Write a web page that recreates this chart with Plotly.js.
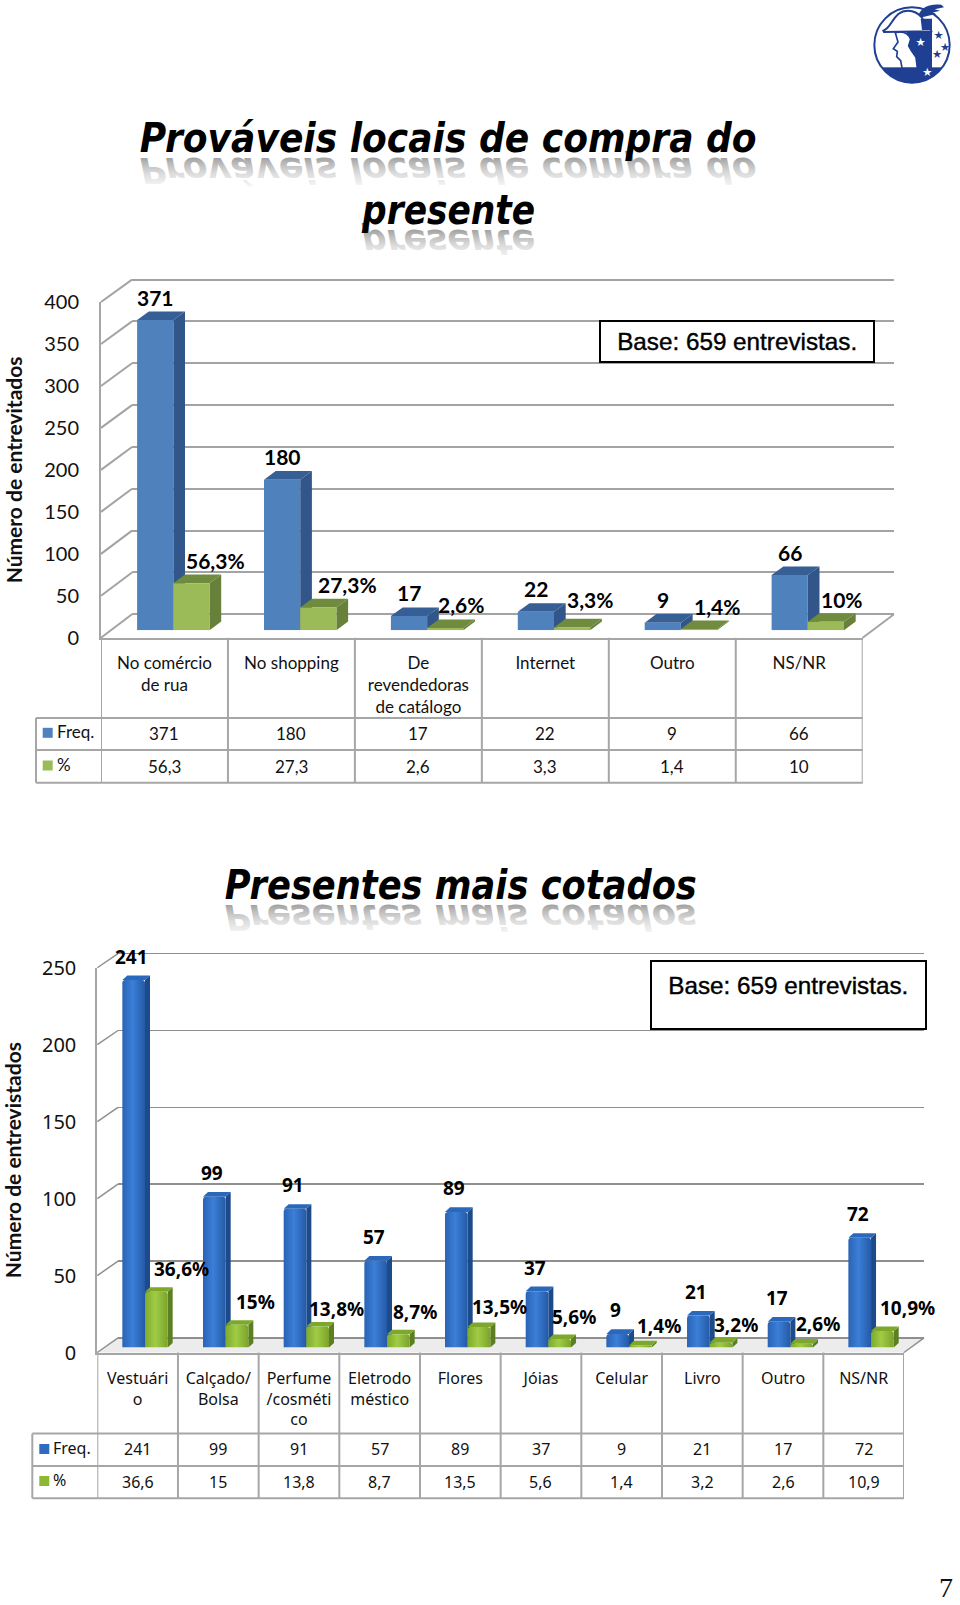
<!DOCTYPE html>
<html>
<head>
<meta charset="utf-8">
<script src="https://cdn.plot.ly/plotly-3.0.1.min.js"></script>
<style>html,body{margin:0;padding:0;background:#fff}#wrap{position:relative;width:960px;height:1605px}#logo{position:absolute;left:840px;top:0}</style>
</head>
<body>
<div id="wrap">
<div id="plot"></div>
<svg id="logo" width="120" height="100" viewBox="0 0 360 300">
  <defs><clipPath id="disc"><circle cx="216" cy="135" r="112"/></clipPath></defs>
  <circle cx="216" cy="135" r="113" fill="#fff" stroke="#1f3f92" stroke-width="6"/>
  <g clip-path="url(#disc)">
    <rect x="100" y="202" width="240" height="60" fill="#1f3f92"/>
    <rect x="200" y="92" width="76" height="112" fill="#1f3f92"/>
    <path d="M166 98L174 126 160 146 172 154 170 170 182 182 186 204H232L228 172 214 152 206 138 212 118C205 100 190 92 166 98Z" fill="#fff" stroke="#1f3f92" stroke-width="5"/>
    <rect x="232" y="92" width="44" height="112" fill="#1f3f92"/>
  </g>
  <path d="M130 92C150 86 154 60 175 42 200 24 235 32 250 60 258 74 262 84 272 86L274 94 132 96Z" fill="#fff" stroke="#1f3f92" stroke-width="6"/>
  <path d="M242 56H276V90H246ZM236 44C246 20 270 10 304 14L312 22 284 28 300 32 276 38 288 42 246 52Z" fill="#1f3f92"/>
  <g font-family="DejaVu Sans" font-size="34" text-anchor="middle">
    <text x="242" y="137" fill="#fff">★</text><text x="296" y="118" fill="#1f3f92">★</text>
    <text x="315" y="153" fill="#1f3f92">★</text><text x="291" y="174" fill="#1f3f92">★</text>
    <text x="262" y="227" fill="#fff">★</text>
  </g>
</svg>
</div>
<script>
/* ---------- data: chart 1 ---------- */
const title1Lines = ['Prováveis locais de compra do', 'presente'];
const categories1 = ['No comércio<br>de rua', 'No shopping', 'De<br>revendedoras<br>de catálogo', 'Internet', 'Outro', 'NS/NR'];
const freq1 = [371, 180, 17, 22, 9, 66];
const pct1 = [56.3, 27.3, 2.6, 3.3, 1.4, 10];
const ticks1 = [0, 50, 100, 150, 200, 250, 300, 350, 400];
const yTitle1 = 'Número de entrevitados';
/* ---------- data: chart 2 ---------- */
const title2Lines = ['Presentes mais cotados'];
const categories2 = ['Vestuári<br>o', 'Calçado/<br>Bolsa', 'Perfume<br>/cosméti<br>co', 'Eletrodo<br>méstico', 'Flores', 'Jóias', 'Celular', 'Livro', 'Outro', 'NS/NR'];
const freq2 = [241, 99, 91, 57, 89, 37, 9, 21, 17, 72];
const pct2 = [36.6, 15, 13.8, 8.7, 13.5, 5.6, 1.4, 3.2, 2.6, 10.9];
const ticks2 = [0, 50, 100, 150, 200, 250];
const yTitle2 = 'Número de entrevistados';
const baseNote = 'Base: 659 entrevistas.';
const seriesNames = ['Freq.', '%'];

/* ---------- label nudges (pixels), separate from the values ---------- */
const pctLabelDx1 = [41.7, 46.8, 33.9, 36, 36.3, 34];
const pctLabelUp1 = [23, 23, 23.6, 28, 23, 22.6];
const pctLabelDx2 = [36.3, 30, 30.4, 27.7, 31.8, 25.6, 30, 26, 27.9, 36.7];
const pctLabelUp2 = [22.8, 22.7, 17.8, 22, 19.7, 22, 19.8, 17.7, 20, 22.6];

/* ---------- helpers ---------- */
const W = 960, H = 1605;
const fx = x => x / W, fy = y => 1 - y / H;
const comma = v => String(v).replace('.', ',');

const layout = {
  width: W, height: H, margin: {l: 0, r: 0, t: 0, b: 0},
  paper_bgcolor: '#fff', plot_bgcolor: 'rgba(0,0,0,0)',
  showlegend: false, barmode: 'overlay', hovermode: false,
  shapes: [], annotations: []
};
const traces = [];

function addChart(c) {
  const n = c.cats.length;
  const [aw, ab, af] = c.ax;              // axis numbers: wall, bars, front
  const id = k => (k === 1 ? '' : k);
  const T = c.text;

  /* back wall with its gridlines */
  const wy = v => c.wall.y0 - v * c.wall.k;
  const top = c.ticks[c.ticks.length - 1];
  layout['xaxis' + id(aw)] = {domain: [fx(c.wall.x0), fx(c.wall.x1)], range: [0, 1], showticklabels: false, ticks: '', showgrid: false, showline: false, zeroline: false, anchor: 'y' + id(aw), fixedrange: true};
  layout['yaxis' + id(aw)] = {domain: [fy(wy(-5)), fy(wy(top + 5))], range: [-5, top + 5], anchor: 'x' + id(aw),
    tickmode: 'array', tickvals: c.ticks, showticklabels: false, ticks: '', showgrid: true, gridcolor: c.gridColor, gridwidth: c.gridWidth, zeroline: false, showline: false, fixedrange: true};
  /* keeps the wall subplot alive: one invisible point on its axes */
  traces.push({type: 'scatter', x: [0.5], y: [0], xaxis: 'x' + id(aw), yaxis: 'y' + id(aw), mode: 'markers', marker: {opacity: 0, size: 1}, hoverinfo: 'skip', showlegend: false});

  /* plane that holds the bars */
  const byTop = c.bars.y0 - top * c.bars.k;
  layout['xaxis' + id(ab)] = {domain: [fx(c.bars.x0), fx(c.bars.x0 + n * c.bars.pitch)], range: [-0.5, n - 0.5], type: 'category', visible: false, anchor: 'y' + id(ab), fixedrange: true};
  layout['yaxis' + id(ab)] = {domain: [fy(c.bars.y0), fy(byTop)], range: [0, top], visible: false, anchor: 'x' + id(ab), fixedrange: true};

  /* front plane: the visible axes */
  const fyy = v => c.front.y0 - v * c.front.k;
  layout['xaxis' + id(af)] = {domain: [fx(c.front.x0), fx(c.front.x1)], range: [-0.5, n - 0.5], type: 'category', anchor: 'y' + id(af),
    tickmode: 'array', tickvals: c.cats.map((_, i) => i), ticktext: c.cats, tickangle: 0, ticks: '', ticklabelstandoff: c.catStandoff,
    tickfont: {family: T.family, size: T.cell, color: '#111'}, showline: true, linecolor: '#a6a6a6', linewidth: 2, showgrid: false, zeroline: false, fixedrange: true};
  layout['yaxis' + id(af)] = {domain: [fy(fyy(0)), fy(fyy(top))], range: [0, top], anchor: 'x' + id(af),
    tickvals: c.ticks, ticktext: c.ticks.map(String), ticks: '', ticklabelstandoff: c.yStandoff,
    tickfont: {family: T.family, size: T.tick, color: '#111'}, showline: true, linecolor: '#a6a6a6', linewidth: 2, showgrid: false, zeroline: false, fixedrange: true,
    title: {text: c.yTitle, font: {family: 'Lato', size: T.yTitle, weight: 700, color: '#111'}}};

  /* bars */
  const xa = 'x' + id(ab), ya = 'y' + id(ab), w = c.bars.w;
  traces.push({type: 'bar', name: seriesNames[0], x: c.cats, y: c.freq, xaxis: xa, yaxis: ya, width: w, offset: -w,
    marker: {color: c.col.blue, line: {width: 0}, cornerradius: c.corner}, hoverinfo: 'skip'});
  traces.push({type: 'bar', name: seriesNames[1], x: c.cats, y: c.pct, xaxis: xa, yaxis: ya, width: w, offset: 0,
    marker: {color: c.col.green, line: {width: 0}, cornerradius: c.corner}, hoverinfo: 'skip'});

  /* 3-D faces, derived from the values through the bar plane's axes */
  const dx = c.bars.dx / c.bars.pitch, dy = c.bars.dy / c.bars.k;
  const face = (vals, off, sideCol, topCol) => vals.forEach((v, i) => {
    const x0 = i + off, x1 = x0 + w;
    layout.shapes.push({type: 'path', xref: xa, yref: ya, layer: 'between', fillcolor: sideCol, line: {width: 0},
      path: `M${x1} 0L${x1 + dx} ${dy}L${x1 + dx} ${v + dy}L${x1} ${v}Z`});
    layout.shapes.push({type: 'path', xref: xa, yref: ya, layer: 'between', fillcolor: topCol, line: {width: 0},
      path: `M${x0} ${v}L${x0 + dx} ${v + dy}L${x1 + dx} ${v + dy}L${x1} ${v}Z`});
  });
  face(c.freq, -w, c.col.blueSide, c.col.blueTop);
  face(c.pct, 0, c.col.greenSide, c.col.greenTop);

  /* floor and side-wall diagonals */
  const line = (x0, y0, x1, y1, col, wd) => layout.shapes.push({type: 'line', xref: 'paper', yref: 'paper', layer: 'below',
    x0: fx(x0), y0: fy(y0), x1: fx(x1), y1: fy(y1), line: {color: col || '#a6a6a6', width: wd || 2}});
  if (c.floorFill) layout.shapes.push({type: 'path', xref: 'paper', yref: 'paper', layer: 'below', fillcolor: c.floorFill, line: {width: 0},
    path: `M${fx(c.front.x0)} ${fy(fyy(0))}L${fx(c.wall.x0)} ${fy(wy(0))}L${fx(c.wall.x1)} ${fy(wy(0))}L${fx(c.front.x1)} ${fy(fyy(0))}Z`});
  c.ticks.forEach(t => line(c.front.x0, fyy(t), c.wall.x0, wy(t), c.gridColor, c.gridWidth));
  line(c.front.x1, fyy(0), c.wall.x1, wy(0), c.gridColor, c.gridWidth);

  /* data table under the chart */
  const xf = 'x' + id(af), R = c.rows;
  for (let i = 0; i <= n; i++) layout.shapes.push({type: 'line', xref: xf, yref: 'paper', layer: 'below',
    x0: i - 0.5, x1: i - 0.5, y0: fy(fyy(0)), y1: fy(R.bottom), line: {color: '#a6a6a6', width: 2}});
  [R.head, R.mid, R.bottom].forEach(y => line(R.left, y, c.front.x1, y));
  line(R.left, R.head, R.left, R.bottom);

  const cell = (i, y, s) => layout.annotations.push({xref: xf, yref: 'paper', x: i, y: fy(y), text: s, showarrow: false,
    xanchor: 'center', yanchor: 'middle', font: {family: T.family, size: T.cell, color: '#111'}});
  c.freq.forEach((v, i) => cell(i, R.freqY, String(v)));
  c.pct.forEach((v, i) => cell(i, R.pctY, comma(v)));
  [[seriesNames[0], R.freqKey, c.col.blue], [seriesNames[1], R.pctKey, c.col.green]].forEach(([s, y, col]) => {
    layout.annotations.push({xref: 'paper', yref: 'paper', x: fx(R.keyText), y: fy(y), text: s, showarrow: false,
      xanchor: 'left', yanchor: 'middle', font: {family: T.family, size: T.cell, color: '#111'}});
    layout.shapes.push({type: 'rect', xref: 'paper', yref: 'paper', layer: 'above', x0: fx(R.keyX), x1: fx(R.keyX + 10),
      y0: fy(y - 4), y1: fy(y + 6), fillcolor: col, line: {width: 0}});
  });

  /* bold value labels above each bar */
  const label = (i, v, s, dxx, up) => layout.annotations.push({xref: xa, yref: ya, x: i, y: v, xshift: dxx, yshift: up, text: s, showarrow: false,
    xanchor: 'center', yanchor: 'middle', font: {family: T.family, size: T.label, weight: 700, color: '#000'}});
  c.freq.forEach((v, i) => label(i, v, String(v), c.freqDx, c.freqUp));
  c.pct.forEach((v, i) => label(i, v, comma(v) + '%', c.pctDx[i], c.pctUp[i]));

  /* note box */
  const B = c.box;
  layout.annotations.push({xref: 'paper', yref: 'paper', x: fx((B.x0 + B.x1) / 2), y: fy((B.y0 + B.y1) / 2), xanchor: 'center', yanchor: 'middle',
    width: B.x1 - B.x0 - 4 - 2 * B.pad, height: B.y1 - B.y0 - 4 - 2 * B.pad, text: baseNote, valign: B.valign, align: 'center', showarrow: false, borderpad: B.pad,
    bordercolor: '#000', borderwidth: 2, bgcolor: '#fff', font: {family: 'Liberation Sans', size: 24, color: '#000'}});

  /* slide title */
  c.titles.forEach((t, i) => layout.annotations.push({xref: 'paper', yref: 'paper', x: fx(t.cx), y: fy(t.cy), xanchor: 'center', yanchor: 'middle',
    text: c.titleLines[i], showarrow: false, font: {family: 'DejaVu Sans', size: t.size, style: 'italic', weight: 700, color: '#000'}}));
}

addChart({
  ax: [1, 2, 3], cats: categories1, freq: freq1, pct: pct1, ticks: ticks1, yTitle: yTitle1, titleLines: title1Lines,
  wall: {x0: 132, x1: 894, y0: 614.3, k: 0.8368},
  front: {x0: 101, x1: 862.7, y0: 637.8, k: 0.8395},
  bars: {x0: 109.85, pitch: 126.9, y0: 630.2, k: 0.836, w: 0.2853, dx: 11.7, dy: 8.6},
  rows: {head: 718, mid: 750, bottom: 782.7, left: 36, freqY: 733.8, pctY: 766.2, freqKey: 731.8, pctKey: 764.5, keyText: 54.5, keyX: 42.7},
  text: {family: 'Lato', tick: 20, cell: 17, label: 21, yTitle: 21},
  col: {blue: '#4f81bd', blueSide: '#32568a', blueTop: '#365f96', green: '#9bbb59', greenSide: '#67803a', greenTop: '#6f8c3e'},
  gridColor: '#a3a3a3', gridWidth: 2, corner: 0, catStandoff: 9, yStandoff: 16,
  freqDx: -18, freqUp: 23, pctDx: pctLabelDx1, pctUp: pctLabelUp1,
  box: {x0: 599, x1: 875.3, y0: 320.3, y1: 363.3, valign: 'middle', pad: 0},
  titles: [{cx: 448, cy: 138, size: 40}, {cx: 448, cy: 210, size: 40}]
});
addChart({
  ax: [4, 5, 6], cats: categories2, freq: freq2, pct: pct2, ticks: ticks2, yTitle: yTitle2, titleLines: title2Lines,
  wall: {x0: 118, x1: 924, y0: 1337.9, k: 1.537},
  front: {x0: 97.3, x1: 904, y0: 1352.5, k: 1.539},
  bars: {x0: 104.67, pitch: 80.67, y0: 1347.6, k: 1.525, w: 0.281, dx: 5, dy: 4.6},
  rows: {head: 1433.6, mid: 1466, bottom: 1498.3, left: 32.3, freqY: 1449.3, pctY: 1481.8, freqKey: 1448, pctKey: 1480, keyText: 50.7, keyX: 39.3},
  text: {family: 'Noto Sans', tick: 20, cell: 16, label: 19, yTitle: 21},
  col: {blue: '#2f6cc0', blueSide: '#1d4a8a', blueTop: '#2a68bb', green: '#8cb833', greenSide: '#5c7f22', greenTop: '#7da82b'},
  gridColor: '#8f8f8f', gridWidth: 1.5, corner: 3, catStandoff: 10, yStandoff: 15, floorFill: '#ececec',
  freqDx: -13.2, freqUp: 23.5, pctDx: pctLabelDx2, pctUp: pctLabelUp2,
  box: {x0: 649.7, x1: 926.3, y0: 960.2, y1: 1030.6, valign: 'top', pad: 10},
  titles: [{cx: 461, cy: 884.5, size: 40}]
});

/* page number */
layout.annotations.push({xref: 'paper', yref: 'paper', x: fx(946), y: 0, text: '7', showarrow: false, xanchor: 'center', yanchor: 'bottom',
  font: {family: 'Liberation Serif', size: 28, color: '#111'}});

Plotly.newPlot('plot', traces, layout, {staticPlot: true, displayModeBar: false}).then(gd => {
  const NS = 'http://www.w3.org/2000/svg';
  const svg = gd.querySelector('.main-svg');
  const defs = svg.querySelector('defs') || svg.insertBefore(document.createElementNS(NS, 'defs'), svg.firstChild);
  const grad = (id, stops, vertical) => {
    const g = document.createElementNS(NS, 'linearGradient');
    g.setAttribute('id', id);
    g.setAttribute('x1', '0'); g.setAttribute('y1', '0');
    g.setAttribute('x2', vertical ? '0' : '1'); g.setAttribute('y2', vertical ? '1' : '0');
    stops.forEach(([o, col, op]) => {
      const s = document.createElementNS(NS, 'stop');
      s.setAttribute('offset', o); s.setAttribute('stop-color', col);
      if (op !== undefined) s.setAttribute('stop-opacity', op);
      g.appendChild(s);
    });
    defs.appendChild(g);
  };
  grad('gBlue', [[0, '#2a63b4'], [0.45, '#3b7fd8'], [1, '#245aa6']]);
  grad('gGreen', [[0, '#7fa92c'], [0.45, '#a0cc45'], [1, '#7ba32a']]);
  grad('gRefl', [[0, '#aaa', 0], [0.4, '#aaa', 0.4], [1, '#777', 1]], true);

  /* gradient on the bars of the second chart */
  const groups = gd.querySelectorAll('.cartesianlayer .subplot.x5y5 .barlayer .trace');
  groups.forEach((g, k) => g.querySelectorAll('.point path').forEach(p => { p.style.fill = k ? 'url(#gGreen)' : 'url(#gBlue)'; }));

  /* nudge the axis titles to the reference's left edge */
  const t1 = gd.querySelector('.g-y3title'), t2 = gd.querySelector('.g-y6title');
  if (t1) t1.setAttribute('transform', 'translate(-26,0)');
  if (t2) t2.setAttribute('transform', 'translate(-23,0)');

  /* fit titles and note boxes to the reference widths; mirrored reflection under the titles */
  const spans = [[title1Lines[0], 617], [title1Lines[1], 173], [title2Lines[0], 472]];
  gd.querySelectorAll('.annotation-text').forEach(el => {
    const txt = el.textContent;
    if (txt === baseNote) {
      el.setAttribute('textLength', 240);
      el.setAttribute('lengthAdjust', 'spacingAndGlyphs');
      el.style.stroke = '#000';
      el.style.strokeWidth = '0.4px';
      return;
    }
    const sp = spans.find(s => s[0] === txt);
    if (!sp) return;
    el.setAttribute('textLength', sp[1]);
    el.setAttribute('lengthAdjust', 'spacingAndGlyphs');
    const c = el.cloneNode(true);
    const base = parseFloat(el.getAttribute('y')) + 3;
    c.setAttribute('aria-hidden', 'true');
    c.setAttribute('transform', `matrix(1 0 0 -0.9 0 ${base * 1.9})`);
    c.style.fill = 'url(#gRefl)';
    el.parentNode.insertBefore(c, el);
  });
});
</script>
</body>
</html>
